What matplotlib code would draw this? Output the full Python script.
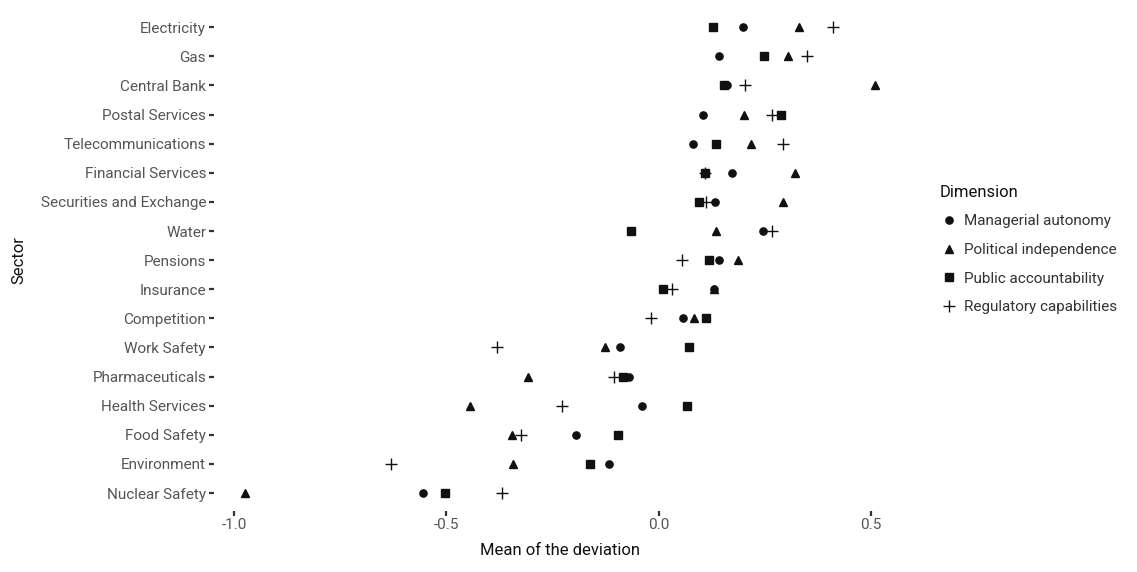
import matplotlib.pyplot as plt
from matplotlib import font_manager
from matplotlib.lines import Line2D

# sectors, top to bottom
sectors = ["Electricity", "Gas", "Central Bank", "Postal Services", "Telecommunications",
           "Financial Services", "Securities and Exchange", "Water", "Pensions", "Insurance",
           "Competition", "Work Safety", "Pharmaceuticals", "Health Services", "Food Safety",
           "Environment", "Nuclear Safety"]

managerial = [0.199, 0.143, 0.162, 0.105, 0.082, 0.172, 0.132, 0.245, 0.143, 0.130,
              0.058, -0.090, -0.071, -0.040, -0.194, -0.118, -0.555]
political = [0.330, 0.305, 0.509, 0.201, 0.218, 0.322, 0.293, 0.136, 0.187, 0.130,
             0.083, -0.126, -0.308, -0.444, -0.346, -0.344, -0.974]
public = [0.129, 0.248, 0.154, 0.289, 0.134, 0.108, 0.096, -0.066, 0.118, 0.010,
          0.112, 0.072, -0.085, 0.066, -0.096, -0.162, -0.503]
regulatory = [0.410, 0.350, 0.204, 0.267, 0.293, 0.108, 0.112, 0.267, 0.054, 0.031,
              -0.019, -0.382, -0.106, -0.228, -0.325, -0.631, -0.370]

dims = ["Managerial autonomy", "Political independence", "Public accountability", "Regulatory capabilities"]

names = {f.name for f in font_manager.fontManager.ttflist}
fam = "Liberation Sans Narrow" if "Liberation Sans Narrow" in names else "Roboto"
plt.rcParams['font.family'] = [fam, 'DejaVu Sans']

fig = plt.figure(figsize=(11.37, 5.72), dpi=100)
ax = fig.add_axes([0.188, 0.1075, 0.609, 0.8755])

ypos = list(range(len(sectors)))[::-1]
col = '#111111'
ax.plot(managerial, ypos, 'o', color=col, ms=5.2, ls='none')
ax.plot(political, ypos, '^', color=col, ms=6.4, ls='none')
ax.plot(public, ypos, 's', color=col, ms=5.8, ls='none')
ax.plot(regulatory, ypos, '+', color=col, ms=9, mew=1.0, ls='none')

allx = managerial + political + public + regulatory
lo, hi = min(allx), max(allx)
pad = (hi - lo) * 0.05
ax.set_xlim(lo - pad, hi + pad)
ax.set_ylim(-0.6, len(sectors) - 0.4)

ax.set_yticks(ypos)
ax.set_yticklabels(sectors)
ax.set_xticks([-1.0, -0.5, 0.0, 0.5])
ax.set_xticklabels(["-1.0", "-0.5", "0.0", "0.5"])
ax.tick_params(axis='both', colors='#333333', labelcolor='#555555', labelsize=11,
               length=3.5, width=1.6, pad=2)

for s in ax.spines.values():
    s.set_visible(False)

ax.set_xlabel("Mean of the deviation", fontsize=12, color='#111111', labelpad=8)
ax.set_ylabel("Sector", fontsize=12, color='#111111', labelpad=10)

handles = [
    Line2D([], [], marker='o', color=col, ms=5.2, ls='none'),
    Line2D([], [], marker='^', color=col, ms=6.4, ls='none'),
    Line2D([], [], marker='s', color=col, ms=5.8, ls='none'),
    Line2D([], [], marker='+', color=col, ms=9, mew=1.0, ls='none'),
]
leg = fig.legend(handles, dims, title="Dimension", loc='upper left',
                 bbox_to_anchor=(0.82, 0.69), frameon=False, fontsize=11,
                 title_fontsize=12, labelspacing=0.95, handletextpad=0.4,
                 handlelength=1.2, borderpad=0)
leg._legend_box.align = "left"
for t in leg.get_texts():
    t.set_color('#333333')
leg.get_title().set_color('#111111')

fig.savefig("out.png", dpi=100)
